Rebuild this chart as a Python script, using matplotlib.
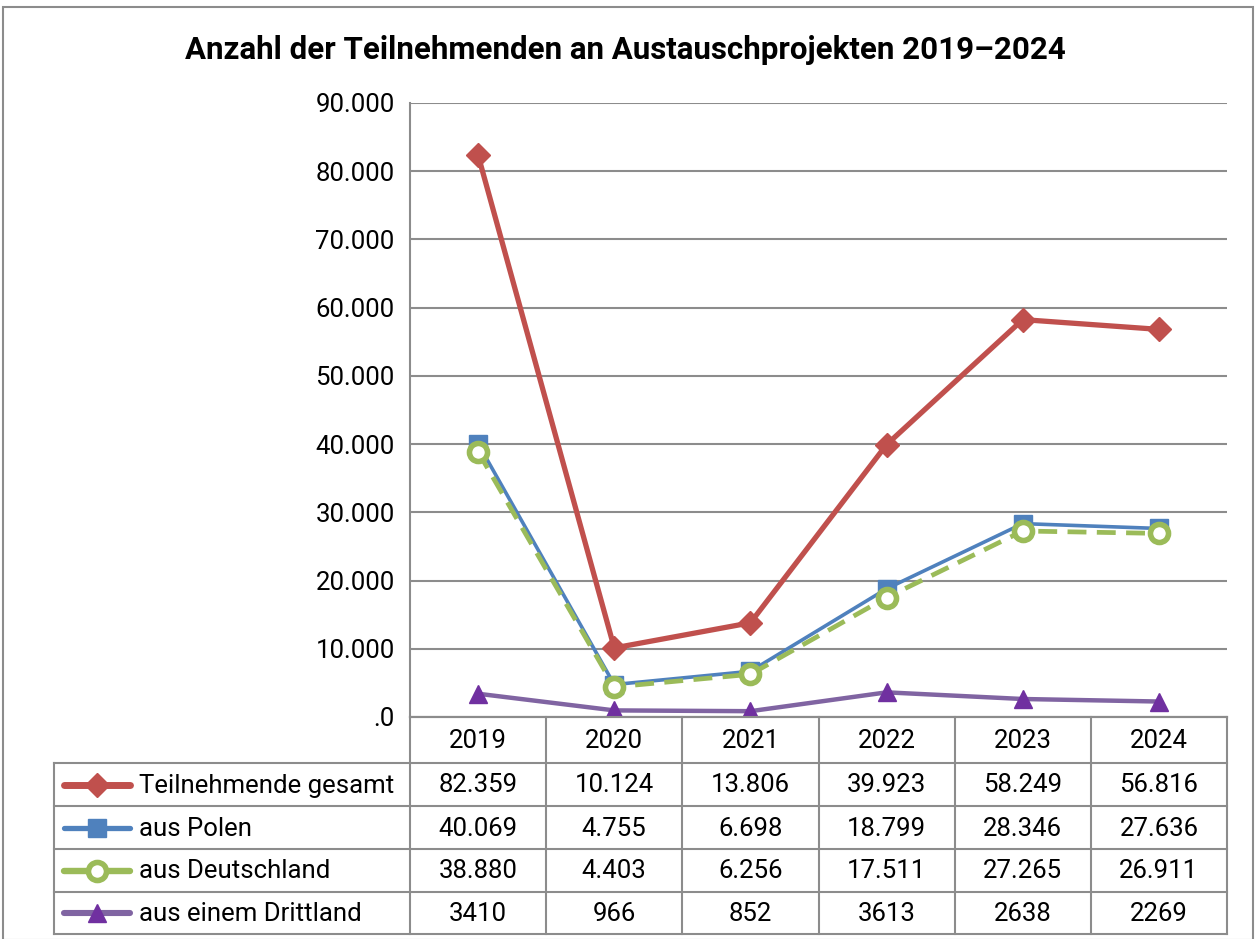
import matplotlib
matplotlib.use("Agg")
import matplotlib.pyplot as plt
from matplotlib.lines import Line2D
from matplotlib.patches import Rectangle

plt.rcParams['font.family'] = ['Roboto', 'DejaVu Sans']

years = ["2019", "2020", "2021", "2022", "2023", "2024"]
series_names = ["Teilnehmende gesamt", "aus Polen", "aus Deutschland", "aus einem Drittland"]
gesamt = [82359, 10124, 13806, 39923, 58249, 56816]
polen = [40069, 4755, 6698, 18799, 28346, 27636]
deutschland = [38880, 4403, 6256, 17511, 27265, 26911]
drittland = [3410, 966, 852, 3613, 2638, 2269]
y_ticks = [0, 10000, 20000, 30000, 40000, 50000, 60000, 70000, 80000, 90000]

W, H = 1257, 939
fig = plt.figure(figsize=(W / 100, H / 100), dpi=100)

def fx(px):
    return px / W

def fy(py):
    return 1 - py / H

FS = 18.5

# plot area in pixels
L, R, T, B = 410, 1227, 103, 717
ax = fig.add_axes([fx(L), fy(B), fx(R) - fx(L), fy(T) - fy(B)])

styles = [
    dict(color="#C0504D", lw=3.8, marker="D", ms=12, mfc="#C0504D", mec="#C0504D", ls="-"),
    dict(color="#4F81BD", lw=2.6, marker="s", ms=13, mfc="#4F81BD", mec="#4F81BD", ls="-"),
    dict(color="#9BBB59", lw=3.4, marker="o", ms=13, mfc="white", mec="#9BBB59", mew=4, ls=(0, (4, 2.2))),
    dict(color="#8064A2", lw=3.2, marker="^", ms=13, mfc="#7030A0", mec="#7030A0", ls="-"),
]
data = [gesamt, polen, deutschland, drittland]
x = list(range(len(years)))
for vals, st in zip(data, styles):
    ax.plot(x, vals, zorder=3, **st)

ax.set_xlim(-0.5, len(years) - 0.5)
ax.set_ylim(0, 90000)
ax.set_yticks(y_ticks)
ax.set_yticklabels([".0"] + [f"{v // 1000}.000" for v in y_ticks[1:]], fontsize=FS)
ax.tick_params(axis="y", length=0, pad=11)
ax.set_xticks([])
ax.grid(axis="y", color="#8c8c8c", lw=1.5)
ax.set_axisbelow(True)
for s in ["top", "right"]:
    ax.spines[s].set_visible(False)
ax.spines["left"].set_color("#8c8c8c")
ax.spines["left"].set_linewidth(1.5)
ax.spines["bottom"].set_color("#8c8c8c")
ax.spines["bottom"].set_linewidth(1.5)

# title
fig.text(fx(625), fy(50), "Anzahl der Teilnehmenden an Austauschprojekten 2019–2024",
         ha="center", va="center", fontsize=22.5, fontweight="bold")

# data table
gc = "#8c8c8c"
col_w = (R - L) / len(years)
row_edges = [717, 763, 806, 849, 892, 934]
TL = 54
def hline(x0, x1, y):
    fig.add_artist(Line2D([fx(x0), fx(x1)], [fy(y), fy(y)], color=gc, lw=1.5))
def vline(xp, y0, y1):
    fig.add_artist(Line2D([fx(xp), fx(xp)], [fy(y0), fy(y1)], color=gc, lw=1.5))

hline(L, R, row_edges[0])
for yy in row_edges[1:]:
    hline(TL, R, yy)
for i in range(len(years) + 1):
    vline(L + i * col_w, row_edges[0], row_edges[-1])
vline(TL, row_edges[1], row_edges[-1])

# header years
for i, yr in enumerate(years):
    fig.text(fx(L + (i + 0.5) * col_w), fy((row_edges[0] + row_edges[1]) / 2 + 1), yr,
             ha="center", va="center", fontsize=FS)

def fmt(v, dots=True):
    s = f"{v:,}"
    return s.replace(",", ".") if dots else str(v)

for r, (name, vals, st) in enumerate(zip(series_names, data, styles)):
    yc = (row_edges[r + 1] + row_edges[r + 2]) / 2
    # legend key
    fig.add_artist(Line2D([fx(64), fx(130)], [fy(yc), fy(yc)], color=st["color"],
                          lw=st["lw"] + 1.2, ls="-", solid_capstyle="round"))
    fig.add_artist(Line2D([fx(97)], [fy(yc)], marker=st["marker"], ms=st["ms"],
                          mfc=st["mfc"], mec=st["mec"], mew=st.get("mew", 1), ls="none"))
    fig.text(fx(139), fy(yc + 1), name, ha="left", va="center", fontsize=FS)
    for i, v in enumerate(vals):
        txt = fmt(v, dots=(r < 3))
        fig.text(fx(L + (i + 0.5) * col_w), fy(yc + 1), txt, ha="center", va="center", fontsize=FS)

# outer frame
fig.add_artist(Rectangle((fx(3), fy(940)), fx(1250), fy(7) - fy(940), fill=False,
                         edgecolor="#8c8c8c", lw=1.5))

fig.savefig("out.png", dpi=100)
